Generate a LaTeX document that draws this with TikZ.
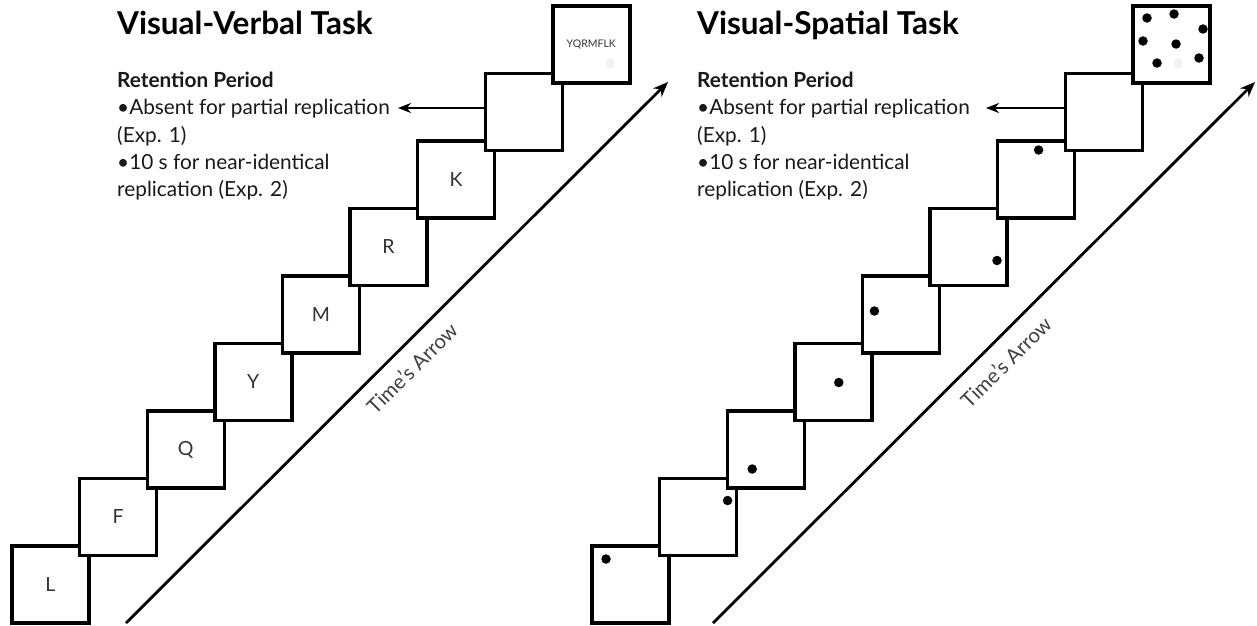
\documentclass[tikz,border=0pt]{standalone}
\usepackage{fontspec}
\setmainfont{Lato}
\usetikzlibrary{arrows.meta,shapes.geometric}
\begin{document}
\begin{tikzpicture}[x=1pt,y=-1pt,
  frame/.style={draw=black, line width=3.4pt, fill=white, minimum width=77pt, minimum height=77pt,
    inner sep=0pt, outer sep=0pt, font=\fontsize{19.5}{21}\selectfont, text=black!80},
  smallframe/.style={frame, font=\fontsize{10.5}{12}\selectfont},
  dot/.style={fill=black, circle, inner sep=0pt, minimum size=9.5pt},
  smudge/.style={fill=black!5, ellipse, inner sep=0pt, minimum width=9pt, minimum height=11pt},
  timearrow/.style={line width=2.8pt, -{Stealth[length=15pt,width=12pt]}},
  retarrow/.style={line width=2.8pt, -{Stealth[length=13pt,width=10pt]}},
  titletext/.style={font=\bfseries\fontsize{31.5}{33}\selectfont, anchor=base west, inner sep=0pt},
  bodytext/.style={font=\fontsize{20.8}{27.3}\selectfont, anchor=north west, align=left, inner sep=0pt, text=black!90},
  timelabel/.style={rotate=45, font=\fontsize{20.5}{22}\selectfont, text=black!75, inner sep=0pt}
]
\path[use as bounding box, fill=white] (0,0) rectangle (1257,625);

% ---------- Visual-Verbal Task ----------
\node[titletext] (t1) at (117,34) {Visual-Verbal Task};
\node[bodytext] (b1) at (117,72) {\textbf{Retention Period}\\•Absent for partial replication\\(Exp. 1)\\•10 s for near-identical\\replication (Exp. 2)};

\foreach \i/\t in {0/L,1/F,2/Q,3/Y,4/M,5/R,6/K,7/{}}
  \node[frame] (v\i) at ({50.5+67.6*\i},{584.5-67.5*\i}) {\t};
\node[smallframe] (v8) at ({50.5+67.6*8},{584.5-67.5*8}) {YQRMFLK};
\node[smudge] (vs) at (610,63) {};

\coordinate (ra1) at (398,108);
\draw[retarrow] (v7.west |- ra1) -- (ra1);

\coordinate (ta1) at (126,623);
\coordinate (tb1) at (668,82);
\draw[timearrow] (ta1) -- (tb1);
\node[timelabel] (tl1) at (412,368) {Time's Arrow};

% ---------- Visual-Spatial Task ----------
\node[titletext] (t2) at (697,34) {Visual-Spatial Task};
\node[bodytext] (b2) at (697,72) {\textbf{Retention Period}\\•Absent for partial replication\\(Exp. 1)\\•10 s for near-identical\\replication (Exp. 2)};

\foreach \i in {0,...,8}
  \node[frame] (s\i) at ({630.5+67.6*\i},{584.5-67.5*\i}) {};

\node[dot] (d0) at ([shift={(14,13)}]s0.north west) {};
\node[dot] (d1) at ([shift={(68,22)}]s1.north west) {};
\node[dot] (d2) at ([shift={(25,58)}]s2.north west) {};
\node[dot] (d3) at ([shift={(44,39)}]s3.north west) {};
\node[dot] (d4) at ([shift={(12,35)}]s4.north west) {};
\node[dot] (d5) at ([shift={(67,52)}]s5.north west) {};
\node[dot] (d6) at ([shift={(41,9)}]s6.north west) {};

\node[dot] (e1) at (1147,18) {};
\node[dot] (e2) at (1174,14) {};
\node[dot] (e3) at (1203,29) {};
\node[dot] (e4) at (1143,41) {};
\node[dot] (e5) at (1176,44) {};
\node[dot] (e6) at (1157,63) {};
\node[dot] (e7) at (1199,58) {};
\node[smudge] (es) at (1178,63) {};

\coordinate (ra2) at (986,108);
\draw[retarrow] (s7.west |- ra2) -- (ra2);

\coordinate (ta2) at (713,623);
\coordinate (tb2) at (1255,82);
\draw[timearrow] (ta2) -- (tb2);
\node[timelabel] (tl2) at (1006,362) {Time's Arrow};
\end{tikzpicture}
\end{document}
